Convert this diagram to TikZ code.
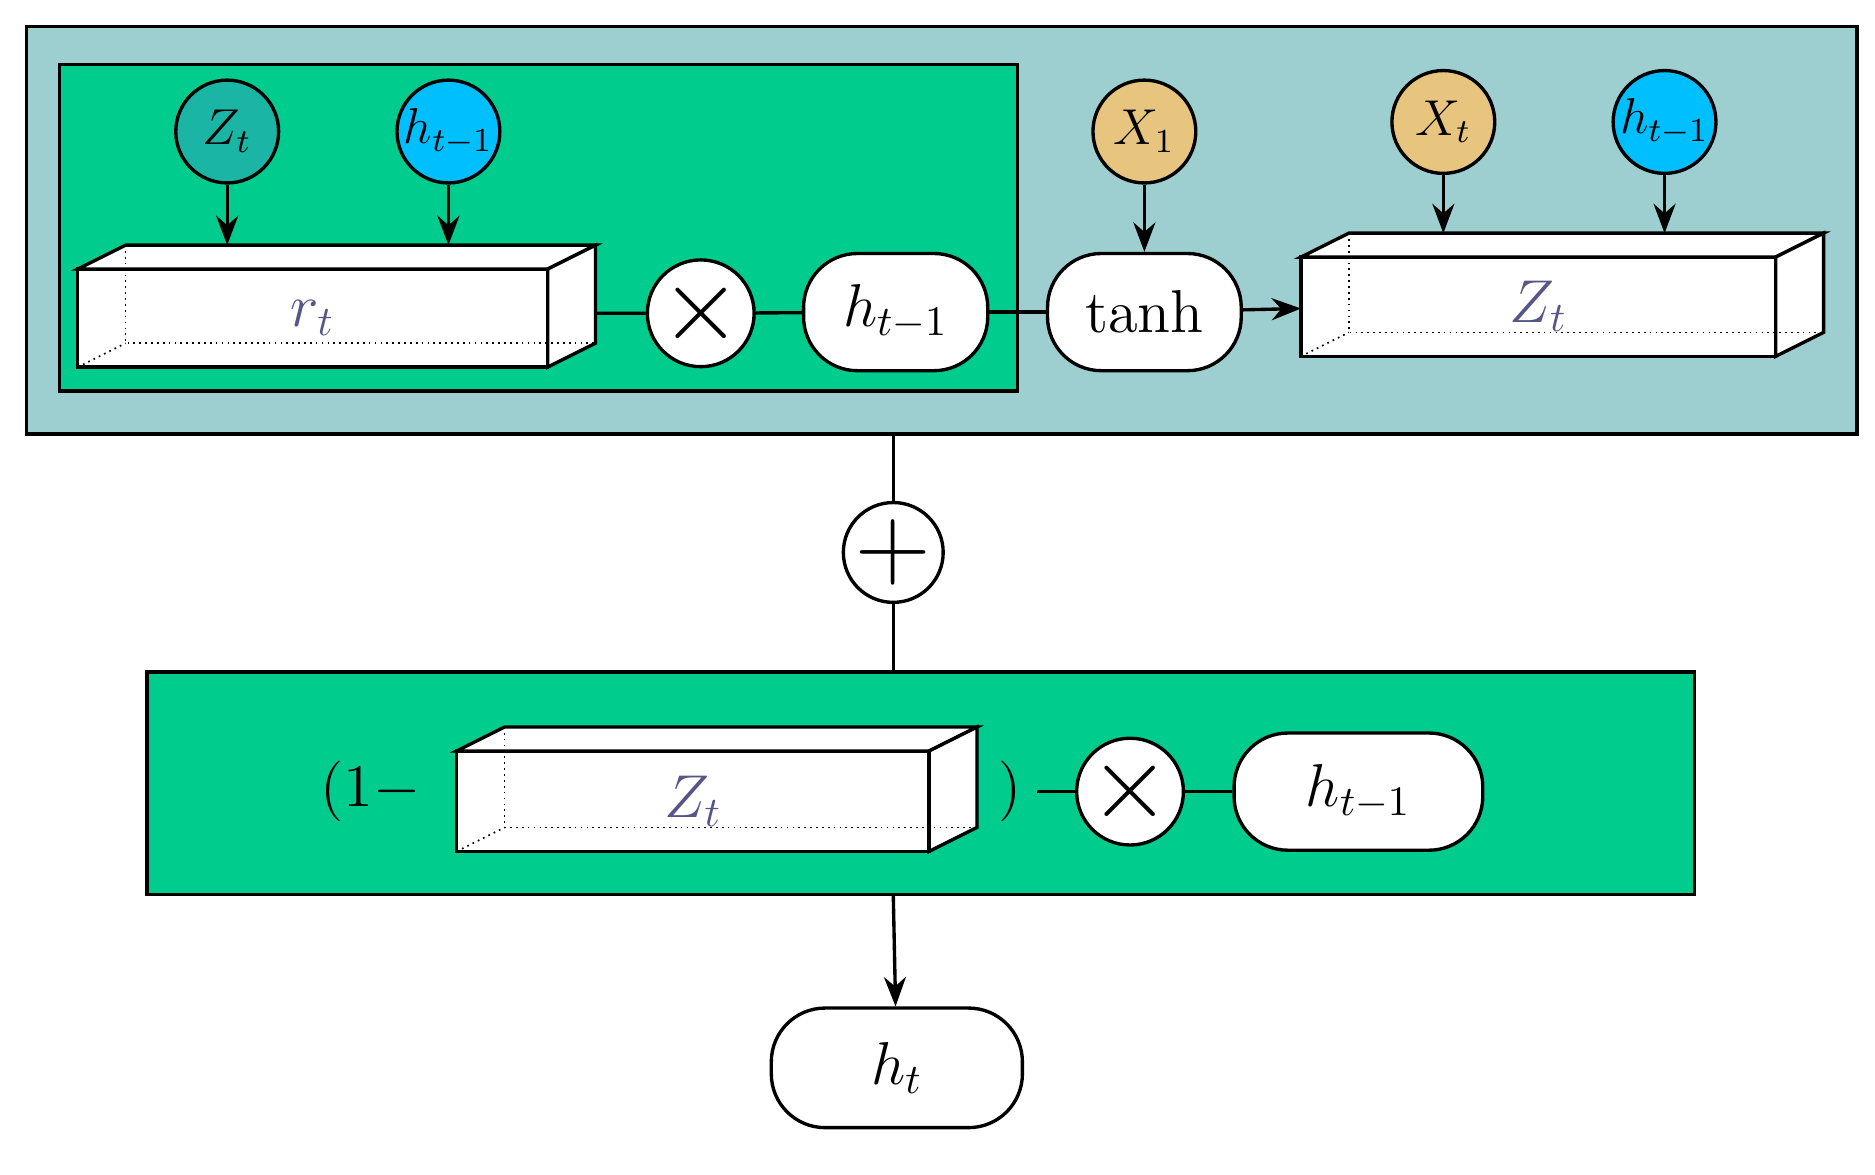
\documentclass[tikz,border=0pt]{standalone}
\usetikzlibrary{arrows.meta,calc}
\definecolor{outerc}{HTML}{9ECFD0}
\definecolor{greenc}{HTML}{00CC8E}
\definecolor{zc}{HTML}{1BB5A5}
\definecolor{hc}{HTML}{00BFFF}
\definecolor{xc}{HTML}{E8C57F}
\definecolor{txtc}{HTML}{555588}
\newcommand\myprism[6]{% name, x1,y1,x2,y2 (front face), label
  \fill[white,draw=black,thick] (#2,#3) rectangle (#4,#5);
  \draw[thick,fill=white] (#2,#3) -- ++(0.4,0.2) -- ($(#4,#3)+(0.4,0.2)$) -- (#4,#3) -- cycle;
  \draw[thick,fill=white] (#4,#3) -- ++(0.4,0.2) -- ($(#4,#5)+(0.4,0.2)$) -- (#4,#5) -- cycle;
  \draw[densely dotted] ($(#2,#3)+(0.4,0.2)$) -- ($(#2,#5)+(0.4,0.2)$) -- ($(#4,#5)+(0.4,0.2)$);
  \draw[densely dotted] (#2,#5) -- ($(#2,#5)+(0.4,0.2)$);
  \node[text=txtc,font=\Large] (#1) at ($(#2,#3)!0.5!(#4,#5)$) {#6};}
\begin{document}
\begin{tikzpicture}[
  circ/.style={circle,draw=black,thick,minimum size=0.86cm,inner sep=0pt,font=\large},
  oval/.style={rounded corners=0.45cm,draw=black,thick,fill=white,minimum height=0.98cm,font=\Large},
  arr/.style={thick,-{Stealth[length=7pt]}},
  ln/.style={thick}]
\useasboundingbox (0,0) rectangle (15.68,-9.82);
\fill[outerc,draw=black,thick] (0.22,-0.22) rectangle (15.53,-3.63);
\fill[greenc,draw=black,thick] (0.50,-0.54) rectangle (8.51,-3.27);
\fill[greenc,draw=black,thick] (1.23,-5.62) rectangle (14.17,-7.48);
% top left
\node[circ,fill=zc] (zt1) at (1.90,-1.10) {$Z_t$};
\node[circ,fill=hc] (h1) at (3.75,-1.10) {$h_{t-1}$};
\myprism{rt}{0.65}{-2.25}{4.58}{-3.07}{$r_t$}
\draw[arr] (zt1) -- (1.90,-2.05);
\draw[arr] (h1) -- (3.75,-2.05);
\node[circ,fill=white,minimum size=0.8cm] (m1) at (5.86,-2.62) {\Huge$\times$};
\node[oval,minimum width=1.54cm] (h2) at (7.49,-2.61) {$h_{t-1}$};
\coordinate (rtr) at (4.98,-2.62);
\draw[ln] (rtr) -- (m1) -- (h2);
\node[oval,minimum width=1.62cm] (tanh) at (9.57,-2.61) {tanh};
\draw[ln] (h2) -- (tanh);
\node[circ,fill=xc] (x1) at (9.57,-1.10) {$X_1$};
\draw[arr] (x1) -- (tanh);
\myprism{zt2}{10.88}{-2.15}{14.85}{-2.98}{$Z_t$}
\coordinate (ztl) at (10.88,-2.58);
\draw[arr] (tanh) -- (ztl);
\node[circ,fill=xc] (xt) at (12.07,-1.02) {$X_t$};
\node[circ,fill=hc] (h3) at (13.92,-1.02) {$h_{t-1}$};
\draw[arr] (xt) -- (12.07,-1.95);
\draw[arr] (h3) -- (13.92,-1.95);
% middle
\node[circ,fill=white,minimum size=0.8cm] (plus) at (7.47,-4.62) {\Huge$+$};
\coordinate (ob) at (7.47,-3.63);
\coordinate (lt) at (7.47,-5.62);
\draw[ln] (ob) -- (plus) -- (lt);
% lower
\node[font=\Large] (one) at (3.10,-6.62) {$(1-$};
\myprism{zt3}{3.82}{-6.28}{7.77}{-7.12}{$Z_t$}
\node[font=\Large] (par) at (8.45,-6.62) {$)$};
\node[circ,fill=white,minimum size=0.8cm] (m2) at (9.45,-6.62) {\Huge$\times$};
\node[oval,minimum width=2.08cm] (h4) at (11.36,-6.62) {$h_{t-1}$};
\draw[ln] (par) -- (m2) -- (h4);
\node[oval,minimum width=2.1cm,minimum height=1.0cm] (ht) at (7.50,-8.93) {$h_t$};
\coordinate (lb) at (7.47,-7.48);
\draw[arr] (lb) -- (ht);
\end{tikzpicture}
\end{document}
